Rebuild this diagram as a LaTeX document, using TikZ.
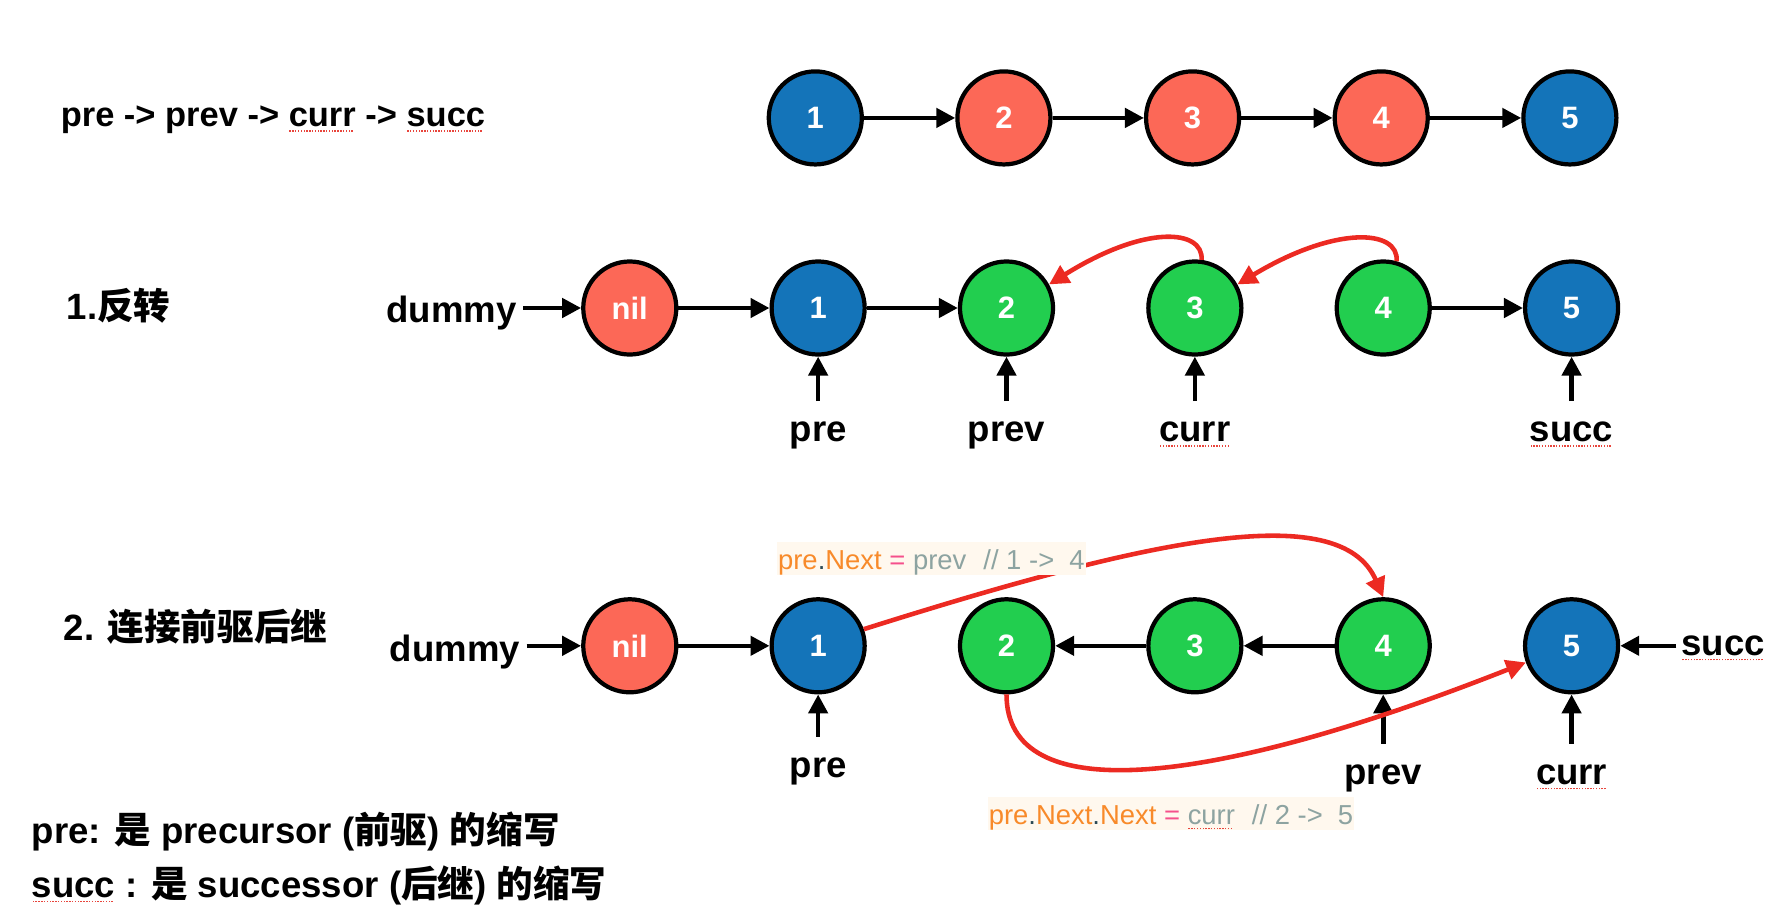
\documentclass[tikz,border=0pt]{standalone}
\usepackage{fontspec}
\setmainfont{Liberation Sans}
\newfontfamily\cjk{Noto Sans CJK SC}
\usetikzlibrary{arrows.meta}

\definecolor{nodeblue}{HTML}{1474B9}
\definecolor{nodered}{HTML}{FC6857}
\definecolor{nodegreen}{HTML}{22CE4F}
\definecolor{linkred}{HTML}{EC2A22}
\definecolor{codebg}{HTML}{FFF8EE}
\definecolor{codeorange}{HTML}{F88A2A}
\definecolor{codepink}{HTML}{F5508C}
\definecolor{codegray}{HTML}{8DA3A1}
\definecolor{codedot}{HTML}{2C4A55}
\definecolor{spellred}{HTML}{E8453C}

% 拼写检查的红色虚线
\newcommand\squig[1]{%
    \setbox0=\hbox{#1}%
    \rlap{\raisebox{-1.4pt}[0pt][0pt]{\color{spellred}\hbox to \wd0{\leaders\hbox to 0.8pt{\hss\rule{0.4pt}{0.4pt}\hss}\hfill}}}\box0\relax}
\newcommand\bigfont{\fontsize{10.4}{12}\selectfont\bfseries}

\tikzset{
    listnode/.style={circle, draw=black, line width=1.2pt, minimum size=0.93cm, inner sep=0pt,
        text=white, font=\fontsize{8.8}{10}\selectfont\bfseries},
    link/.style={-{Triangle[length=5.4pt,width=5.4pt]}, line width=1.3pt},
    relink/.style={-{Triangle[length=5.6pt,width=5.6pt]}, line width=1.3pt, draw=linkred},
    word/.style={inner sep=0pt, font=\bigfont},
    pointer/.style={word, anchor=base, inner ysep=5.8pt},
    code/.style={anchor=base west, fill=codebg, inner xsep=0.3pt, inner ysep=0pt,
        text height=0.275cm, text depth=0.057cm, font=\fontsize{7.8}{9}\selectfont},
}

\begin{document}
\begin{tikzpicture}[x=0.01145cm, y=-0.01145cm]
    \useasboundingbox (0,0) rectangle (1565,805);

    % 原始链表
    \node[word, anchor=base west, font=\fontsize{9.8}{12}\selectfont\bfseries] (order) at (52.5,110.7)
        {pre -> prev -> \squig{curr} -> \squig{succ}};
    \foreach \i/\c in {1/nodeblue,2/nodered,3/nodered,4/nodered,5/nodeblue}
        \node[listnode, fill=\c] (a\i) at (547.25+164.75*\i,103) {\i};
    \foreach \i/\j in {1/2,2/3,3/4,4/5}
        \draw[link] (a\i) -- (a\j);

    % 1.反转
    \node[word, anchor=base west] (stepA) at (57.7,279) {1.{\cjk 反转}};
    \node[word, anchor=base east, inner xsep=1.7pt] (dummyA) at (457,282) {dummy};
    \foreach \n/\t/\c in {0/nil/nodered,1/1/nodeblue,2/2/nodegreen,3/3/nodegreen,4/4/nodegreen,5/5/nodeblue}
        \node[listnode, fill=\c] (b\n) at (550+164.5*\n,269) {\t};
    \draw[link] (dummyA.east |- b0.west) -- (b0.west);
    \foreach \i/\j in {0/1,1/2,4/5}
        \draw[link] (b\i) -- (b\j);
    \draw[relink] (b3.82) .. controls (1051,200) and (1000,196) .. (b2.29);
    \draw[relink] (b4.74) .. controls (1222,200) and (1166,197) .. (b3.29);

    \foreach \n/\t in {1/pre,2/prev,3/\squig{curr},5/\squig{succ}}
    {
        \node[pointer] (p\n) at (550+164.5*\n,386) {\t};
        \draw[link] (p\n) -- (b\n);
    }

    % 2. 连接前驱后继
    \node[word, anchor=base west] (stepB) at (55,559) {2. {\cjk 连接前驱后继}};
    \node[word, anchor=base east, inner xsep=1.7pt] (dummyB) at (460,578) {dummy};
    \foreach \n/\t/\c in {0/nil/nodered,1/1/nodeblue,2/2/nodegreen,3/3/nodegreen,4/4/nodegreen,5/5/nodeblue}
        \node[listnode, fill=\c] (c\n) at (550+164.5*\n,564) {\t};
    \draw[link] (dummyB.east |- c0.west) -- (c0.west);
    \draw[link] (c0) -- (c1);
    \draw[link] (c3) -- (c2);
    \draw[link] (c4) -- (c3);
    \node[word, anchor=west, inner xsep=1.3pt] (succB) at (1464,564) {\squig{succ}};
    \draw[link] (succB) -- (c5);

    \foreach \n/\t/\y in {1/pre/679,4/prev/685,5/\squig{curr}/685}
    {
        \node[pointer] (q\n) at (550+164.5*\n,\y) {\t};
        \draw[link] (q\n) -- (c\n);
    }

    \draw[relink] (c1.20) .. controls (1000,472) and (1170,434) .. (c4.north);
    \draw[relink] (c2.south) .. controls (879,705) and (1050,690) .. (c5.200);

    % 代码注释
    \node[code] (codeA) at (678,497)
        {\color{codeorange}pre\textcolor{codedot}{.}Next \textcolor{codepink}{=}
         \textcolor{codegray}{prev\hspace{0.62em}// 1 ->\hspace{0.55em}4}};
    \node[code] (codeB) at (862,719.7)
        {\color{codeorange}pre\textcolor{codedot}{.}Next\textcolor{codedot}{.}Next \textcolor{codepink}{=}
         \textcolor{codegray}{\squig{curr}\hspace{0.62em}// 2 ->\hspace{0.55em}5}};

    % 说明
    \node[word, anchor=base west] (noteA) at (27.3,737)
        {pre: {\cjk 是} precursor ({\cjk 前驱}) {\cjk 的缩写}};
    \node[word, anchor=base west] (noteB) at (27.3,783.4)
        {\squig{succ} : {\cjk 是} successor ({\cjk 后继}) {\cjk 的缩写}};
\end{tikzpicture}
\end{document}
